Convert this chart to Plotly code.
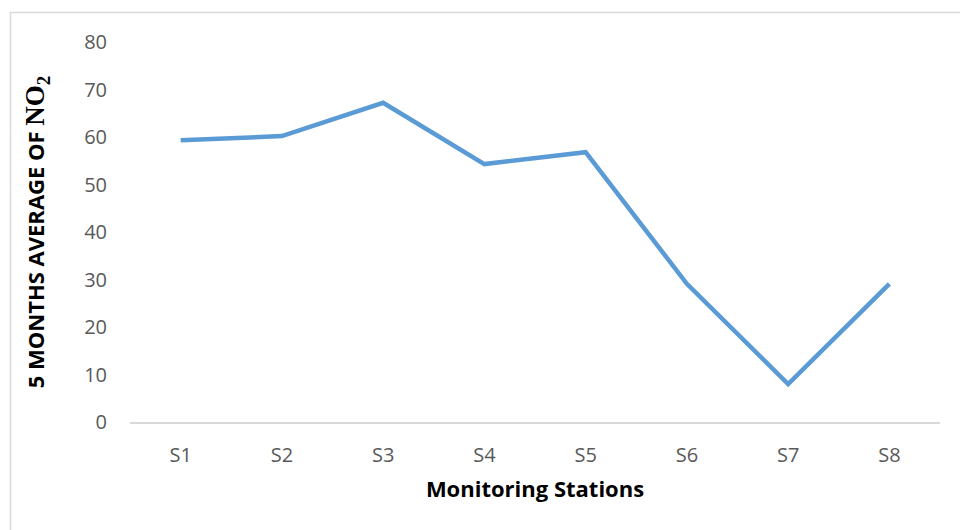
import plotly.graph_objects as go

# Monitoring stations and their five-month mean NO2 values
stations = ["S1", "S2", "S3", "S4", "S5", "S6", "S7", "S8"]
no2_avg = [59.3, 60.2, 67.2, 54.3, 56.8, 29.1, 8.0, 29.1]
y_ticks = [0, 10, 20, 30, 40, 50, 60, 70, 80]

W, H = 960, 530
L, R, T, B = 130, 20, 42, 108

fig = go.Figure(
    go.Scatter(
        x=stations,
        y=no2_avg,
        mode="lines",
        line=dict(color="#5B9BD5", width=4.5),
        hoverinfo="x+y",
    )
)

# light frame around the chart area (open on the right and bottom edges)
def px_to_paper_x(px):
    return (px - L) / (W - L - R)

def px_to_paper_y(py):
    return (H - B - py) / (H - T - B)

fig.add_shape(
    type="rect",
    xref="paper", yref="paper",
    x0=px_to_paper_x(10.5), x1=px_to_paper_x(975),
    y0=px_to_paper_y(545), y1=px_to_paper_y(12.5),
    line=dict(color="#D9D9D9", width=1.5),
    fillcolor="rgba(0,0,0,0)",
    layer="below",
)

fig.update_layout(
    width=W,
    height=H,
    margin=dict(l=L, r=R, t=T, b=B),
    paper_bgcolor="white",
    plot_bgcolor="white",
    showlegend=False,
    font=dict(family="Open Sans", color="#595959", size=20),
    xaxis=dict(
        type="category",
        range=[-0.5, len(stations) - 0.5],
        showgrid=False,
        showline=True,
        linecolor="#D9D9D9",
        linewidth=1.5,
        ticks="",
        ticklabelstandoff=14,
        tickfont=dict(size=20, color="#595959"),
        title=dict(
            text="<b>Monitoring Stations</b>",
            font=dict(family="Open Sans", size=22, color="#000000"),
            standoff=15,
        ),
        zeroline=False,
    ),
    yaxis=dict(
        range=[0, 80],
        tickvals=y_ticks,
        showgrid=False,
        showline=False,
        zeroline=False,
        ticks="",
        ticklabelstandoff=22,
        tickfont=dict(size=20, color="#595959"),
        title=dict(
            text="<b>5 MONTHS AVERAGE OF </b>"
                 "<span style='font-family:Liberation Serif;font-size:27px'>"
                 "<b>NO</b><sub><b>2</b></sub></span>",
            font=dict(family="Open Sans", size=22, color="#000000"),
            standoff=33,
        ),
    ),
)

fig.write_html("out.html")
